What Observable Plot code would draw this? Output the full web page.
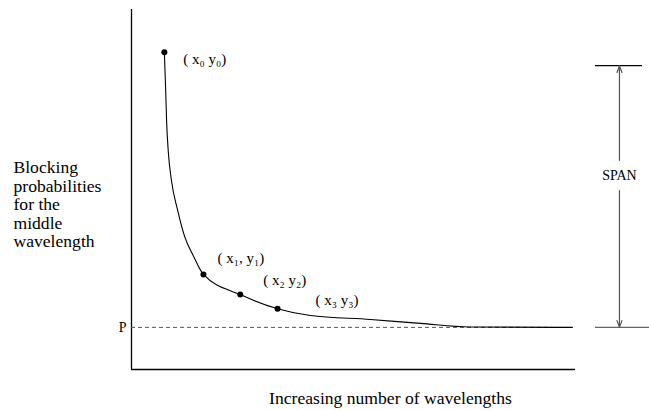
<!DOCTYPE html>
<html>
<head>
<meta charset="utf-8">
<script src="https://cdn.jsdelivr.net/npm/d3@7"></script>
<script src="https://cdn.jsdelivr.net/npm/@observablehq/plot@0.6"></script>
<style>
  html, body { margin: 0; padding: 0; background: #fff; }
  #chart { width: 649px; height: 410px; }
  #chart svg, #chart svg text { font-family: "Liberation Serif", "Times New Roman", serif; }
</style>
</head>
<body>
<div id="chart"></div>
<script>
// Curve of blocking probability vs number of wavelengths (arbitrary units)
const curveX = [7.4, 7.7, 7.9, 8.3, 9.0, 10.4, 11.9, 14.0, 16.2, 24.5, 32.9, 40.3, 53.8, 65.1, 76.3, 99.3];
const curveY = [0.881, 0.775, 0.692, 0.603, 0.525, 0.442, 0.372, 0.314, 0.264, 0.208, 0.169, 0.150, 0.139, 0.128, 0.118, 0.117];

// Marked points
const pointX = [7.4, 16.2, 24.5, 32.9];
const pointY = [0.881, 0.264, 0.208, 0.169];
const pointLabels = ["( x\u2080 y\u2080)", "( x\u2081, y\u2081)", "( x\u2082 y\u2082)", "( x\u2083 y\u2083)"];

// Limiting probability P and the span
const pValue = 0.117;
const pLabel = "P";
const spanTop = 0.844;
const spanLabel = "SPAN";
const spanX = 109.9;
const spanGap = [0.497, 0.581];
const spanBar = [104.5, 115.1, 116.7];

const yTitle = "Blocking\nprobabilities\nfor the\nmiddle\nwavelength";
const xTitle = "Increasing number of wavelengths";

const curve = curveX.map((x, i) => ({x, y: curveY[i]}));
const points = pointX.map((x, i) => ({x, y: pointY[i], label: pointLabels[i]}));
const labelOffsets = [[19, 7], [14, -16], [23, -14], [38, -8]];

const font = "'Liberation Serif', 'Times New Roman', serif";

const chart = Plot.plot({
  width: 649,
  height: 410,
  marginLeft: 131,
  marginRight: 74,
  marginTop: 9,
  marginBottom: 41,
  style: `font-family: ${font}; background: #fff; color: #000;`,
  x: {domain: [0, 100], axis: null},
  y: {domain: [0, 1], axis: null},
  marks: [
    // frame: left and bottom axis lines
    Plot.ruleX([0], {stroke: "#000", strokeWidth: 1.3}),
    Plot.ruleY([0], {stroke: "#000", strokeWidth: 1.3}),
    // P dashed line
    Plot.ruleY([pValue], {x1: 0, x2: curveX[curveX.length - 1], stroke: "#555", strokeDasharray: "4,3", strokeWidth: 1}),
    Plot.text([pLabel], {frameAnchor: "left", y: [pValue], dx: -5, textAnchor: "end", fontSize: 14, fontFamily: font, fill: "#000"}),
    // curve
    Plot.line(curve, {x: "x", y: "y", curve: "monotone-x", stroke: "#000", strokeWidth: 1.1}),
    Plot.dot(points, {x: "x", y: "y", r: 3, fill: "#000", stroke: "none"}),
    ...points.map((p, i) => Plot.text([p], {
      x: "x", y: "y", text: "label",
      dx: labelOffsets[i][0], dy: labelOffsets[i][1],
      textAnchor: "start", lineAnchor: "middle", fontSize: 15, fontFamily: font, fill: "#000"
    })),
    // SPAN bracket
    Plot.ruleY([spanTop], {x1: spanBar[0], x2: spanBar[1], stroke: "#000", strokeWidth: 1.2}),
    Plot.ruleY([pValue], {x1: spanBar[0], x2: spanBar[2], stroke: "#666", strokeWidth: 1.2}),
    Plot.arrow([{y1: spanGap[1], y2: spanTop}, {y1: spanGap[0], y2: pValue}], {
      x1: () => spanX, x2: () => spanX, y1: "y1", y2: "y2",
      stroke: "#555", strokeWidth: 1.2, headLength: 9, headAngle: 40, bend: 0
    }),
    Plot.text([spanLabel], {x: [spanX], y: [(spanGap[0] + spanGap[1]) / 2], textAnchor: "middle", lineAnchor: "middle", fontSize: 14, fontFamily: font, fill: "#000"}),
    // titles
    Plot.text([yTitle], {frameAnchor: "left", dx: -118, dy: 15, textAnchor: "start", lineAnchor: "middle", lineHeight: 1.05, fontSize: 17.6, fontFamily: font, fill: "#000"}),
    Plot.text([xTitle], {frameAnchor: "bottom", dx: 37, dy: 29, textAnchor: "middle", lineAnchor: "middle", fontSize: 17.6, fontFamily: font, fill: "#000"})
  ]
});
document.getElementById("chart").appendChild(chart);
</script>
</body>
</html>
